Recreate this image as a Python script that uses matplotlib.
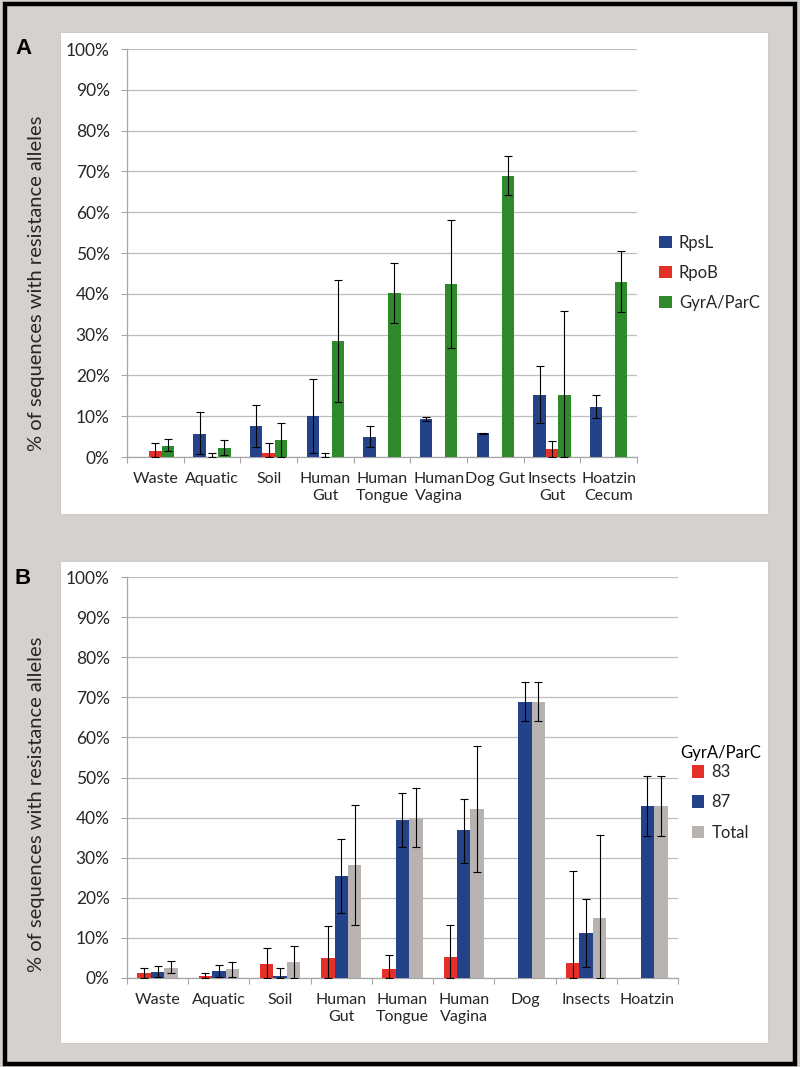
import numpy as np
import matplotlib.pyplot as plt
from matplotlib.patches import Rectangle
from matplotlib.ticker import FixedLocator, FuncFormatter

plt.rcParams['font.family'] = ['Lato', 'DejaVu Sans']

# Panel A data (% of sequences)
cats_a = ['Waste', 'Aquatic', 'Soil', 'Human\nGut', 'Human\nTongue', 'Human\nVagina',
          'Dog Gut', 'Insects\nGut', 'Hoatzin\nCecum']
rpsl = [0, 5.7, 7.6, 10.0, 4.8, 9.2, 5.8, 15.3, 12.3]
rpsl_lo = [0, 0.7, 2.4, 1.0, 2.4, 8.8, 5.6, 8.3, 9.5]
rpsl_hi = [0, 11.1, 12.7, 19.2, 7.5, 9.8, 6.0, 22.3, 15.1]
rpob = [1.5, 0, 0.9, 0, 0, 0, 0, 2.0, 0]
rpob_lo = [0, 0, 0, 0, 0, 0, 0, 0, 0]
rpob_hi = [3.5, 1.0, 3.4, 1.0, 0, 0, 0, 3.9, 0]
gyra = [2.8, 2.3, 4.2, 28.4, 40.2, 42.3, 68.9, 15.1, 43.0]
gyra_lo = [1.5, 0.5, 0, 13.4, 32.9, 26.6, 64.1, 0, 35.5]
gyra_hi = [4.3, 4.2, 8.3, 43.4, 47.5, 58.0, 73.8, 35.8, 50.5]

# Panel B data (GyrA/ParC positions)
cats_b = ['Waste', 'Aquatic', 'Soil', 'Human\nGut', 'Human\nTongue', 'Human\nVagina',
          'Dog', 'Insects', 'Hoatzin']
p83 = [1.2, 0.4, 3.4, 5.0, 2.2, 5.2, 0, 3.7, 0]
p83_lo = [0, 0, 0, 0, 0, 0, 0, 0, 0]
p83_hi = [2.6, 1.2, 7.4, 13.0, 5.7, 13.1, 0, 26.7, 0]
p87 = [1.5, 1.7, 0.5, 25.4, 39.3, 36.8, 68.8, 11.2, 42.8]
p87_lo = [0.2, 0.2, 0, 16.2, 32.7, 28.8, 64.0, 2.7, 35.3]
p87_hi = [2.9, 3.3, 2.6, 34.7, 46.1, 44.7, 73.7, 19.6, 50.4]
total = [2.6, 2.2, 3.9, 28.1, 40.0, 42.1, 68.8, 15.0, 42.8]
total_lo = [1.2, 0.3, 0, 13.2, 32.7, 26.4, 64.0, 0, 35.3]
total_hi = [4.2, 3.9, 8.0, 43.1, 47.4, 57.9, 73.7, 35.6, 50.4]

BLUE = '#24428a'
RED = '#e5302a'
GREEN = '#2e8a2c'
GREY = '#b8b3b0'
TXT = '#262626'


def draw_panel(ax, cats, series):
    x = np.arange(len(cats))
    w = 0.22
    handles = []
    for i, (vals, lo, hi, col, lab) in enumerate(series):
        vals = np.array(vals, float)
        lo = np.array(lo, float)
        hi = np.array(hi, float)
        xs = x + (i - 1) * w
        h = ax.bar(xs, vals, w, color=col, label=lab, zorder=3)
        handles.append(h)
        m = hi > 0
        ax.errorbar(xs[m], vals[m], yerr=[vals[m] - lo[m], hi[m] - vals[m]],
                    fmt='none', ecolor='black', elinewidth=0.8, capsize=2.6,
                    capthick=0.8, zorder=4)
    ax.set_xlim(-0.5, len(cats) - 0.5)
    ax.set_ylim(0, 100)
    ax.yaxis.set_major_locator(FixedLocator(np.arange(0, 101, 10)))
    ax.yaxis.set_major_formatter(FuncFormatter(lambda v, p: '%d%%' % v))
    ax.grid(axis='y', color='#bdbdbd', linewidth=0.9, zorder=0)
    ax.set_axisbelow(True)
    ax.xaxis.set_major_locator(FixedLocator(np.arange(-0.5, len(cats), 1.0)))
    ax.xaxis.set_major_formatter(FuncFormatter(lambda v, p: ''))
    ax.xaxis.set_minor_locator(FixedLocator(x))
    ax.set_xticklabels(cats, minor=True, linespacing=1.25)
    ax.tick_params(axis='x', which='major', length=4.5, color='#a6a6a6', width=0.8)
    ax.tick_params(axis='x', which='minor', length=0, pad=11, labelsize=11.5,
                   labelcolor=TXT)
    ax.tick_params(axis='y', length=4.5, color='#a6a6a6', width=0.8, pad=8,
                   labelsize=12.5, labelcolor=TXT)
    for s in ['top', 'right']:
        ax.spines[s].set_visible(False)
    for s in ['left', 'bottom']:
        ax.spines[s].set_color('#a6a6a6')
        ax.spines[s].set_linewidth(0.9)
    return handles


W, H = 800, 1067
fig = plt.figure(figsize=(W / 100, H / 100), dpi=100, facecolor='#d5d1ce')


def fx(px):
    return px / W


def fy(py):
    return 1 - py / H


# white panel boxes and outer border
for top, bot in [(32, 514), (561, 1043)]:
    fig.patches.append(Rectangle((fx(60), fy(bot)), fx(768) - fx(60), fy(top) - fy(bot),
                                 transform=fig.transFigure, facecolor='white',
                                 edgecolor='#c8c8c8', linewidth=0.6, zorder=-5))
fig.patches.append(Rectangle((fx(5), fy(1064)), fx(795) - fx(5), fy(4) - fy(1064),
                             transform=fig.transFigure, facecolor='none',
                             edgecolor='black', linewidth=3.2, zorder=5))

axA = fig.add_axes([fx(127), fy(457), fx(637) - fx(127), fy(49) - fy(457)])
axA.patch.set_alpha(0)
hA = draw_panel(axA, cats_a, [(rpsl, rpsl_lo, rpsl_hi, BLUE, 'RpsL'),
                              (rpob, rpob_lo, rpob_hi, RED, 'RpoB'),
                              (gyra, gyra_lo, gyra_hi, GREEN, 'GyrA/ParC')])
fig.legend(handles=hA, loc='center left', bbox_to_anchor=(fx(644), fy(273)),
           frameon=False, fontsize=12, handlelength=0.75, handleheight=0.75,
           handletextpad=0.45, labelspacing=0.85, labelcolor=TXT)

axB = fig.add_axes([fx(127), fy(978), fx(678) - fx(127), fy(577) - fy(978)])
axB.patch.set_alpha(0)
hB = draw_panel(axB, cats_b, [(p83, p83_lo, p83_hi, RED, '83'),
                              (p87, p87_lo, p87_hi, BLUE, '87'),
                              (total, total_lo, total_hi, GREY, 'Total')])
legB = fig.legend(handles=hB, loc='center left', bbox_to_anchor=(fx(665), fy(793)),
                  frameon=False, fontsize=12, handlelength=0.75, handleheight=0.75,
                  handletextpad=0.45, labelspacing=0.85, labelcolor=TXT,
                  title='GyrA/ParC', title_fontsize=12)
legB._legend_box.sep = 2

fig.text(fx(37), fy(283), '% of sequences with resistance alleles', rotation=90,
         ha='center', va='center', fontsize=14.5, color=TXT)
fig.text(fx(37), fy(804), '% of sequences with resistance alleles', rotation=90,
         ha='center', va='center', fontsize=14.5, color=TXT)
fig.text(fx(15), fy(49), 'A', ha='left', va='center', fontsize=16, fontweight='bold',
         family=['Liberation Sans', 'DejaVu Sans'], color='black')
fig.text(fx(15), fy(578), 'B', ha='left', va='center', fontsize=16, fontweight='bold',
         family=['Liberation Sans', 'DejaVu Sans'], color='black')

fig.savefig('out.png', dpi=100, facecolor=fig.get_facecolor())
